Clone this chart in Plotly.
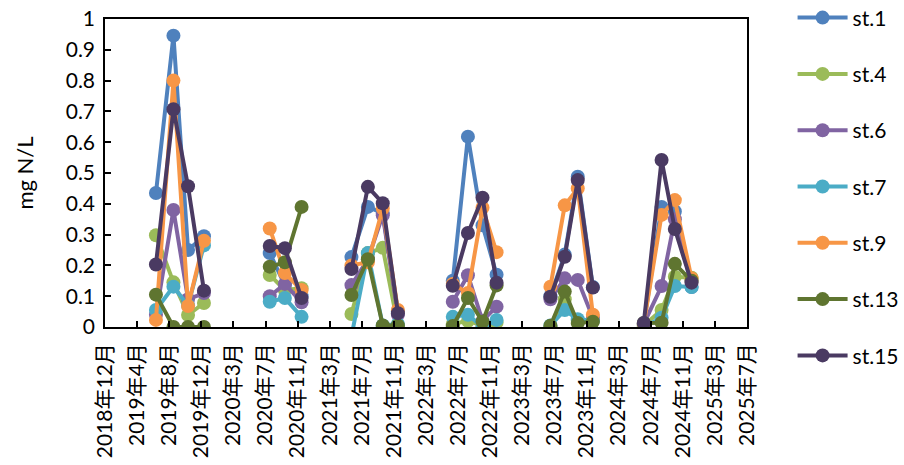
import plotly.graph_objects as go

# Sampling dates, grouped by survey year (lines break between years)
dates_2019 = ["2019-06-13", "2019-08-18", "2019-10-12", "2019-12-11"]
dates_2020 = ["2020-08-15", "2020-10-11", "2020-12-13"]
dates_2021 = ["2021-06-19", "2021-08-20", "2021-10-15", "2021-12-11"]
dates_2022 = ["2022-07-06", "2022-09-01", "2022-10-26", "2022-12-18"]
dates_2023 = ["2023-07-09", "2023-09-01", "2023-10-20", "2023-12-16"]
dates_2024 = ["2024-06-25", "2024-08-31", "2024-10-20", "2024-12-22"]
date_groups = [dates_2019, dates_2020, dates_2021, dates_2022, dates_2023, dates_2024]

# Values (mg N/L), per station, per year group
st1 = [[0.435, 0.946, 0.25, 0.295], [0.24, 0.136, 0.10], [0.227, 0.39, 0.37, 0.05],
       [0.15, 0.618, 0.33, 0.17], [0.10, 0.235, 0.488, 0.13], [0.01, 0.39, 0.375, 0.13]]
st4 = [[0.298, 0.145, 0.039, 0.078], [0.169, 0.12, 0.126], [0.042, 0.24, 0.257, 0.005],
       [0.01, 0.02, 0.005, 0.015], [0.0, 0.09, 0.02, 0.02], [0.005, 0.055, 0.163, 0.16]]
st6 = [[0.04, 0.38, 0.09, 0.11], [0.10, 0.14, 0.08], [0.136, 0.22, 0.363, 0.04],
       [0.082, 0.168, 0.02, 0.066], [0.09, 0.158, 0.153, 0.03], [0.01, 0.133, 0.35, 0.15]]
st7 = [[0.055, 0.131, 0.07, 0.265], [0.082, 0.094, 0.033], [-0.03, 0.24, 0.005, 0.01],
       [0.033, 0.04, 0.0, 0.023], [0.005, 0.055, 0.025, 0.02], [0.0, 0.03, 0.133, 0.13]]
st9 = [[0.023, 0.80, 0.068, 0.28], [0.32, 0.175, 0.12], [0.20, 0.21, 0.385, 0.055],
       [0.14, 0.11, 0.387, 0.243], [0.131, 0.395, 0.45, 0.04], [0.01, 0.364, 0.412, 0.158]]
st13 = [[0.105, 0.0, 0.0, 0.0], [0.196, 0.21, 0.39], [0.104, 0.22, 0.005, 0.005],
        [0.003, 0.094, 0.017, 0.135], [0.004, 0.115, 0.013, 0.017], [0.013, 0.014, 0.205, 0.15]]
st15 = [[0.203, 0.707, 0.457, 0.118], [0.263, 0.256, 0.094], [0.188, 0.455, 0.402, 0.045],
        [0.134, 0.305, 0.42, 0.144], [0.098, 0.228, 0.477, 0.128], [0.013, 0.542, 0.318, 0.144]]

station_names = ["st.1", "st.4", "st.6", "st.7", "st.9", "st.13", "st.15"]
station_values = [st1, st4, st6, st7, st9, st13, st15]
colors = ["#4F81BD", "#9BBB59", "#8064A2", "#4BACC6", "#F79646", "#5F7530", "#4A3A62"]

FONT = "Lato, 'Noto Sans CJK JP', sans-serif"


def flatten(groups_x, groups_y):
    xs, ys = [], []
    for gx, gy in zip(groups_x, groups_y):
        xs += list(gx) + [None]
        ys += list(gy) + [None]
    return xs, ys


fig = go.Figure()
for name, vals, col in zip(station_names, station_values, colors):
    xs, ys = flatten(date_groups, vals)
    fig.add_trace(go.Scatter(
        x=xs, y=ys, name=name, mode="lines+markers",
        line=dict(color=col, width=4),
        marker=dict(color=col, size=14),
        connectgaps=False, legendgroup=name,
    ))

DAY_MS = 86400000
fig.update_layout(
    width=904, height=465,
    margin=dict(l=105, r=157, t=19, b=138, autoexpand=False),
    paper_bgcolor="white", plot_bgcolor="white",
    font=dict(family=FONT, size=21, color="black"),
    showlegend=True,
    legend=dict(x=1.071, xanchor="left", y=1.07, yanchor="top",
                tracegroupgap=26, font=dict(size=21), itemwidth=50,
                maxheight=465, bgcolor="rgba(0,0,0,0)"),
    xaxis=dict(
        type="date",
        range=["2018-12-03", "2025-07-19"],
        tick0="2018-12-03", dtick=121 * DAY_MS,
        tickformat="%Y年%-m月", tickangle=-90,
        ticks="inside", ticklen=6, tickcolor="black", tickwidth=1.5,
        ticklabelstandoff=6, automargin=False,
        showline=True, linecolor="black", linewidth=1.5, mirror=True,
        showgrid=False, zeroline=False,
        tickfont=dict(size=21),
    ),
    yaxis=dict(
        range=[0, 1], dtick=0.1,
        ticks="inside", ticklen=6, tickcolor="black", tickwidth=1.5,
        ticklabelstandoff=4,
        showline=True, linecolor="black", linewidth=1.5, mirror=True,
        showgrid=False, zeroline=False, automargin=False,
        title=dict(text="mg N/L", font=dict(size=22), standoff=26),
        tickfont=dict(size=21),
    ),
)

fig.write_html("out.html")
